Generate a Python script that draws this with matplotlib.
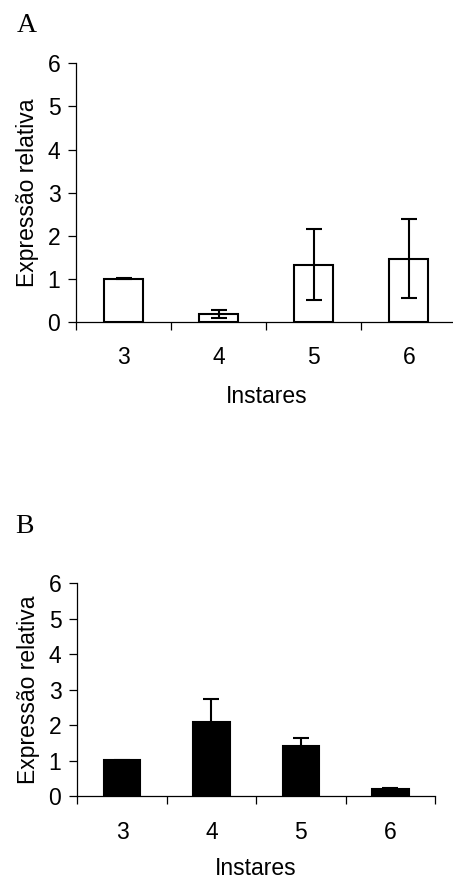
import matplotlib
matplotlib.use("Agg")
import matplotlib.pyplot as plt

# Data
instares = ["3", "4", "5", "6"]
expr_a = [1.00, 0.19, 1.33, 1.47]
err_a = [0.01, 0.10, 0.82, 0.92]
expr_b = [1.01, 2.08, 1.40, 0.21]
err_b = [0.01, 0.66, 0.23, 0.01]
yticks = [0, 1, 2, 3, 4, 5, 6]

plt.rcParams['font.family'] = ['Liberation Sans', 'DejaVu Sans']
FS = 16.5

fig = plt.figure(figsize=(4.53, 8.81), dpi=100)

axA = fig.add_axes([0.1685, 0.6345, 0.839, 0.2936])
axB = fig.add_axes([0.1707, 0.0965, 0.7896, 0.2414])


def panel(ax, vals, errs, face, xpad, lpad):
    x = list(range(1, len(vals) + 1))
    ax.bar(x, vals, width=0.41, color=face, edgecolor="black", linewidth=1.5,
           zorder=2)
    ax.errorbar(x, vals, yerr=errs, fmt="none", ecolor="black",
                elinewidth=1.5, capsize=5.5, capthick=1.5, zorder=3)
    ax.set_xlim(0.5, len(vals) + 0.5)
    ax.set_ylim(0, 6)
    ax.set_yticks(yticks)
    # ticks between categories, labels centered on bars
    ax.set_xticks([i + 0.5 for i in range(len(vals) + 1)])
    ax.set_xticklabels([])
    ax.set_xticks(x, minor=True)
    ax.set_xticklabels(instares, minor=True)
    ax.tick_params(axis="x", which="minor", length=0, labelsize=FS, pad=xpad)
    ax.tick_params(axis="x", which="major", length=6, width=0.9, direction="out")
    ax.tick_params(axis="y", length=6, width=0.9, labelsize=FS, pad=5.5)
    for s in ["top", "right"]:
        ax.spines[s].set_visible(False)
    for s in ["left", "bottom"]:
        ax.spines[s].set_linewidth(0.9)
    ax.set_xlabel("Instares", fontsize=FS, labelpad=lpad)
    ax.set_ylabel("Expressão relativa", fontsize=FS, labelpad=6)


panel(axA, expr_a, err_a, "white", 17, 12)
panel(axB, expr_b, err_b, "black", 18, 9.5)

fig.text(17 / 453, 1 - 32 / 881, "A", family="Liberation Serif", fontsize=20,
         ha="left", va="baseline")
fig.text(15 / 453, 1 - 533 / 881, "B", family="Liberation Serif", fontsize=20,
         ha="left", va="baseline")

fig.savefig("out.png", dpi=100)
